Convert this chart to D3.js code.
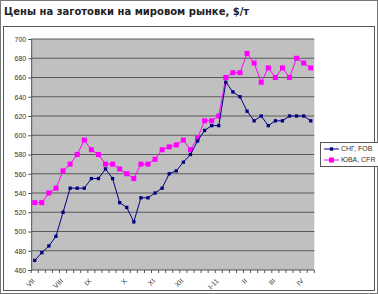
<!DOCTYPE html>
<html>
<head>
<meta charset="utf-8">
<script src="https://cdn.jsdelivr.net/npm/d3@7"></script>
<style>
  body { margin: 0; background: #fff; }
  svg { display: block; }
</style>
</head>
<body>
<svg id="chart" width="378" height="294"></svg>
<script>
// weekly prices, $/t
const cisFob = [470, 478, 485, 495, 520, 545, 545, 545, 555, 555,
                565, 555, 530, 525, 510, 535, 535, 540, 545, 560,
                563, 572, 580, 594, 605, 610, 610, 655, 645, 640,
                625, 615, 620, 610, 615, 615, 620, 620, 620, 615];
const seaCfr = [530, 530, 540, 545, 563, 570, 580, 595, 585, 580,
                570, 570, 565, 560, 555, 570, 570, 575, 585, 588,
                590, 595, 585, 597, 615, 615, 620, 660, 665, 665,
                685, 675, 655, 670, 660, 670, 660, 680, 675, 670];
const monthLabels = ["VII", "VIII", "IX", "X", "XI", "XII", "I-11", "II", "III", "IV"];
const monthIndex  = [0, 4, 8, 13, 17, 21, 26, 30, 34, 38];
const yTicks = d3.range(460, 701, 20);
const seriesNames = ["СНГ, FOB", "ЮВА, CFR"];

const svg = d3.select("#chart");
const plot = { left: 31.2, right: 314.3, top: 39, bottom: 270 };
const idx = d3.range(cisFob.length);

const x = d3.scaleBand().domain(idx).range([plot.left, plot.right]);
const y = d3.scaleLinear().domain([460, 700]).range([plot.bottom, plot.top]);

// frames
svg.append("rect").attr("x", 0.5).attr("y", 0.5).attr("width", 377).attr("height", 293)
  .attr("fill", "none").attr("stroke", "#777");
svg.append("rect").attr("x", 3.5).attr("y", 26.5).attr("width", 371).attr("height", 264)
  .attr("fill", "none").attr("stroke", "#555");

// title
svg.append("text")
  .attr("x", 4).attr("y", 15)
  .attr("font-family", "DejaVu Sans").attr("font-weight", "bold").attr("font-size", "10px")
  .attr("fill", "#222")
  .text("Цены на заготовки на мировом рынке, $/т");

// plot area
svg.append("rect")
  .attr("x", plot.left).attr("y", plot.top)
  .attr("width", plot.right - plot.left).attr("height", plot.bottom - plot.top)
  .attr("fill", "#c0c0c0");

svg.append("g").selectAll("line")
  .data(yTicks.slice(1))
  .join("line")
    .attr("x1", plot.left).attr("x2", plot.right)
    .attr("y1", d => y(d)).attr("y2", d => y(d))
    .attr("stroke", "#5a5a5a").attr("stroke-width", 1.2);

// y axis
const yAxis = svg.append("g")
  .attr("transform", `translate(${plot.left},0)`)
  .call(d3.axisLeft(y).tickValues(yTicks).tickSize(3).tickPadding(2));
yAxis.select(".domain").attr("stroke", "#555");
yAxis.selectAll(".tick line").attr("stroke", "#555");
yAxis.selectAll("text")
  .attr("font-family", "Liberation Sans").attr("font-size", "7px").attr("fill", "#333");

// x axis with a tick at every category boundary
const xg = svg.append("g").attr("transform", `translate(0,${plot.bottom})`);
xg.append("line").attr("x1", plot.left).attr("x2", plot.right)
  .attr("stroke", "#555");
xg.selectAll(".tk")
  .data(d3.range(cisFob.length + 1))
  .join("line").attr("class", "tk")
    .attr("x1", i => plot.left + i * x.step()).attr("x2", i => plot.left + i * x.step())
    .attr("y1", 0).attr("y2", 3)
    .attr("stroke", "#555");
xg.selectAll("text")
  .data(monthLabels)
  .join("text")
    .attr("transform", (d, i) => `translate(${x(monthIndex[i]) + x.bandwidth() / 2 - 3},${8}) rotate(-45)`)
    .attr("text-anchor", "end")
    .attr("dy", "0.7em")
    .attr("font-family", "Liberation Sans").attr("font-size", "7px").attr("fill", "#333")
    .text(d => d);

// series
const cx = i => x(i) + x.bandwidth() / 2;
const line = d3.line().x((d, i) => cx(i)).y(d => y(d));

svg.append("path").datum(seaCfr)
  .attr("d", line).attr("fill", "none").attr("stroke", "#ff00ff").attr("stroke-width", 1);
svg.append("g").selectAll("rect")
  .data(seaCfr)
  .join("rect")
    .attr("x", (d, i) => cx(i) - 2.5).attr("y", d => y(d) - 2.5)
    .attr("width", 5).attr("height", 5)
    .attr("fill", "#ff00ff");

svg.append("path").datum(cisFob)
  .attr("d", line).attr("fill", "none").attr("stroke", "#000080").attr("stroke-width", 1);
const diamond = d3.symbol().type(d3.symbolDiamond2).size(14);
svg.append("g").selectAll("path")
  .data(cisFob)
  .join("path")
    .attr("transform", (d, i) => `translate(${cx(i)},${y(d)}) rotate(45)`)
    .attr("d", diamond)
    .attr("fill", "#000080");

// legend
const lg = svg.append("g").attr("transform", "translate(320,142)");
lg.append("rect").attr("x", 0.5).attr("y", 0.5).attr("width", 60).attr("height", 24)
  .attr("fill", "#fff").attr("stroke", "#555");
const rows = lg.selectAll(".row")
  .data(seriesNames)
  .join("g").attr("class", "row")
    .attr("transform", (d, i) => `translate(0,${7 + i * 11})`);
rows.append("line").attr("x1", 4).attr("x2", 19)
  .attr("stroke", (d, i) => i ? "#ff00ff" : "#000080");
rows.each(function(d, i) {
  const g = d3.select(this);
  if (i) {
    g.append("rect").attr("x", 9).attr("y", -2.5).attr("width", 5).attr("height", 5).attr("fill", "#ff00ff");
  } else {
    g.append("path").attr("transform", "translate(11.5,0) rotate(45)").attr("d", diamond).attr("fill", "#000080");
  }
});
rows.append("text").attr("x", 21).attr("dy", "0.35em")
  .attr("font-family", "Liberation Sans").attr("font-size", "7px").attr("fill", "#333")
  .text(d => d);
</script>
</body>
</html>
